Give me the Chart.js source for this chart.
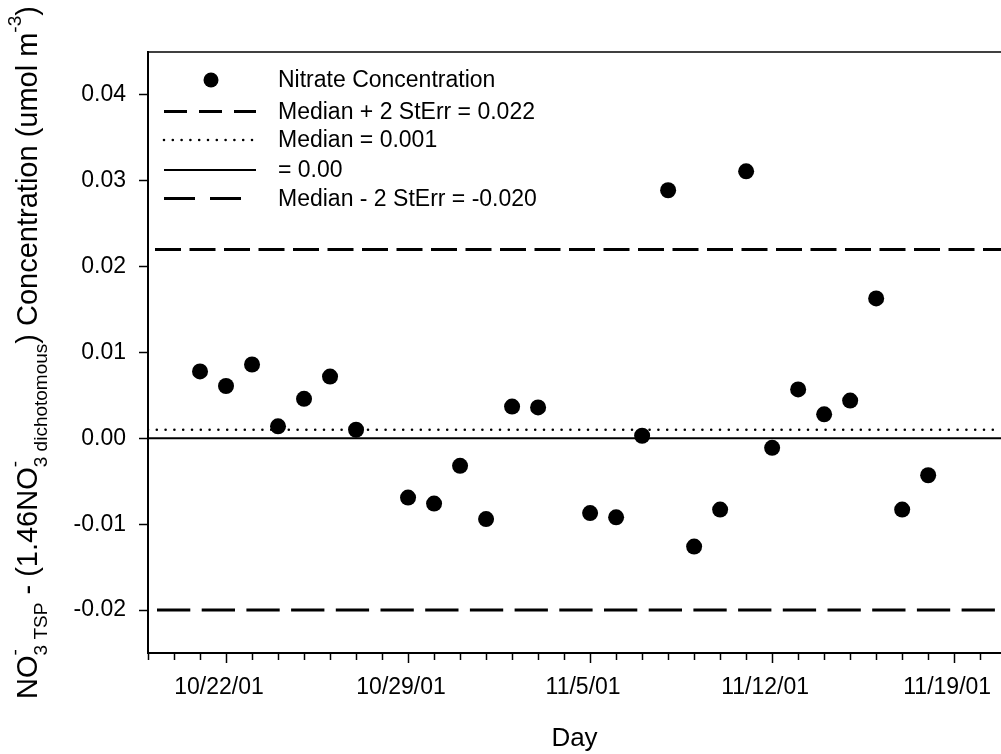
<!DOCTYPE html>
<html>
<head>
<meta charset="utf-8">
<script src="https://cdn.jsdelivr.net/npm/chart.js@4.4.1/dist/chart.umd.min.js"></script>
<style>
    html, body { margin: 0; padding: 0; background: #fff; }
    canvas { display: block; }
</style>
</head>
<body>
<canvas id="nitrateChart" width="1001" height="754"></canvas>
<script>
// sampling days and the TSP minus dichotomous nitrate difference (umol m-3)
const sampleDates = [
    '10/21/01', '10/22/01', '10/23/01', '10/24/01', '10/25/01', '10/26/01', '10/27/01',
    '10/29/01', '10/30/01', '10/31/01', '11/1/01', '11/2/01', '11/3/01',
    '11/5/01', '11/6/01', '11/7/01', '11/8/01', '11/9/01', '11/10/01', '11/11/01',
    '11/12/01', '11/13/01', '11/14/01', '11/15/01', '11/16/01', '11/17/01', '11/18/01'
];
const nitrate = [
    0.0078, 0.0061, 0.0086, 0.0014, 0.0046, 0.0072, 0.0010,
    -0.0069, -0.0076, -0.0032, -0.0094, 0.0037, 0.0036,
    -0.0087, -0.0092, 0.0003, 0.0289, -0.0126, -0.0083, 0.0311,
    -0.0011, 0.0057, 0.0028, 0.0044, 0.0163, -0.0083, -0.0043
];

// reference levels
const medianPlus = 0.022;
const median = 0.001;
const zeroLevel = 0.00;
const medianMinus = -0.020;

// labelled weekly ticks on the day axis, value ticks on the left axis
const weekLabels = ['10/22/01', '10/29/01', '11/5/01', '11/12/01', '11/19/01'];
const yTickValues = [-0.02, -0.01, 0.00, 0.01, 0.02, 0.03, 0.04];

const startDate = new Date(2001, 9, 19);
const dayMax = 32.8;
const dayMs = 86400000;

function dayOf(label) {
    const [m, d, y] = label.split('/').map(Number);
    return Math.round((new Date(2000 + y, m - 1, d) - startDate) / dayMs);
}

function labelOf(day) {
    const d = new Date(startDate.getFullYear(), startDate.getMonth(), startDate.getDate() + day);
    return (d.getMonth() + 1) + '/' + d.getDate() + '/' + String(d.getFullYear()).slice(2);
}

function refLine(label, value, style) {
    return Object.assign({
        type: 'line',
        label: label,
        data: [{ x: 0, y: value }, { x: dayMax, y: value }],
        borderColor: '#000',
        pointRadius: 0,
        pointHoverRadius: 0,
        fill: false
    }, style);
}

// legend drawn inside the plot, top left
const insideLegend = {
    id: 'insideLegend',
    afterDraw(chart) {
        const ctx = chart.ctx;
        const x0 = 164, x1 = 256, textX = 278;
        const rows = [80, 111.5, 140, 170, 198.5];
        ctx.save();
        ctx.font = '23px "Liberation Sans", Arial, sans-serif';
        ctx.fillStyle = '#000';
        ctx.textBaseline = 'middle';
        chart.data.datasets.forEach((ds, i) => {
            const y = rows[i];
            if (ds.type === 'line') {
                ctx.beginPath();
                ctx.strokeStyle = '#000';
                ctx.lineWidth = ds.borderWidth;
                ctx.lineCap = ds.borderCapStyle || 'butt';
                ctx.setLineDash(ds.legendDash || ds.borderDash || []);
                ctx.moveTo(x0, y);
                ctx.lineTo(ds.legendEnd || x1, y);
                ctx.stroke();
                ctx.setLineDash([]);
            } else {
                ctx.beginPath();
                ctx.arc((x0 + x1) / 2 + 1, y, 7.5, 0, Math.PI * 2);
                ctx.fill();
            }
            ctx.fillText(ds.label, textX, y + 1);
        });
        ctx.restore();
    }
};

// frame line along the top of the plot and the y axis title with sub/superscripts
const frameAndTitle = {
    id: 'frameAndTitle',
    afterDraw(chart) {
        const ctx = chart.ctx;
        const area = chart.chartArea;
        ctx.save();
        ctx.strokeStyle = '#000';
        ctx.lineWidth = 1.5;
        ctx.beginPath();
        ctx.moveTo(area.left, area.top);
        ctx.lineTo(area.right, area.top);
        ctx.stroke();

        const F = 29, S = 19;
        const mainFont = F + 'px "Liberation Sans", Arial, sans-serif';
        const smallFont = S + 'px "Liberation Sans", Arial, sans-serif';
        const parts = [
            { text: 'NO' },
            { sub: '3 TSP', sup: '-' },
            { text: ' - (1.46NO' },
            { sub: '3 dichotomous', sup: '-' },
            { text: ') Concentration (umol m' },
            { sup: '-3' },
            { text: ')' }
        ];
        const widthOf = p => {
            if (p.text) { ctx.font = mainFont; return ctx.measureText(p.text).width; }
            ctx.font = smallFont;
            return Math.max(p.sub ? ctx.measureText(p.sub).width : 0, p.sup ? ctx.measureText(p.sup).width : 0);
        };
        const total = parts.reduce((s, p) => s + widthOf(p), 0);
        const midY = (area.top + area.bottom) / 2;
        ctx.translate(37, midY + total / 2);
        ctx.rotate(-Math.PI / 2);
        ctx.fillStyle = '#000';
        ctx.textBaseline = 'alphabetic';
        let x = 0;
        parts.forEach(p => {
            const w = widthOf(p);
            if (p.text) {
                ctx.font = mainFont;
                ctx.fillText(p.text, x, 0);
            } else {
                ctx.font = smallFont;
                if (p.sub) ctx.fillText(p.sub, x, 10);
                if (p.sup) ctx.fillText(p.sup, x, -16);
            }
            x += w;
        });
        ctx.restore();
    }
};

Chart.defaults.font.family = '"Liberation Sans", Arial, sans-serif';
Chart.defaults.color = '#000';

const nitrateChart = document.getElementById('nitrateChart');

new Chart(nitrateChart, {
    type: 'scatter',
    data: {
        datasets: [
            {
                label: 'Nitrate Concentration',
                data: sampleDates.map((s, i) => ({ x: dayOf(s), y: nitrate[i] })),
                backgroundColor: '#000',
                borderWidth: 0,
                pointRadius: 8,
                pointHoverRadius: 8
            },
            refLine('Median + 2 StErr = ' + medianPlus.toFixed(3), medianPlus, {
                borderWidth: 3,
                borderDash: [26, 8.5],
                borderDashOffset: 27.5,
                legendDash: [23, 12]
            }),
            refLine('Median = ' + median.toFixed(3), median, {
                borderWidth: 2.6,
                borderDash: [0, 8.8],
                borderCapStyle: 'round'
            }),
            refLine('= ' + zeroLevel.toFixed(2), zeroLevel, {
                borderWidth: 2
            }),
            refLine('Median - 2 StErr = ' + medianMinus.toFixed(3), medianMinus, {
                borderWidth: 3,
                borderDash: [33.3, 11.4],
                borderDashOffset: 35.7,
                legendDash: [31, 15],
                legendEnd: 241
            })
        ]
    },
    options: {
        responsive: false,
        animation: false,
        layout: {
            autoPadding: false,
            padding: { top: 52, left: 0, right: 0, bottom: 0 }
        },
        plugins: {
            legend: { display: false },
            tooltip: { enabled: false }
        },
        scales: {
            x: {
                type: 'linear',
                min: 0,
                max: dayMax,
                afterFit: scale => {
                    scale.height = 101;
                    scale.paddingLeft = 0;
                    scale.paddingRight = 0;
                },
                border: { color: '#000', width: 2 },
                grid: {
                    drawOnChartArea: false,
                    tickLength: 10,
                    tickWidth: 1.5,
                    tickColor: '#000',
                    tickBorderDash: ctx => (ctx.tick && weekLabels.includes(labelOf(ctx.tick.value))) ? [] : [6, 30]
                },
                ticks: {
                    stepSize: 1,
                    includeBounds: false,
                    autoSkip: false,
                    maxRotation: 0,
                    padding: 11,
                    labelOffset: -7,
                    font: { size: 23 },
                    callback: value => weekLabels.includes(labelOf(value)) ? labelOf(value) : ''
                },
                title: {
                    display: true,
                    text: 'Day',
                    font: { size: 26 },
                    padding: 0
                }
            },
            y: {
                min: -0.025,
                max: 0.045,
                afterFit: scale => {
                    scale.width = 148;
                    scale.paddingTop = 0;
                    scale.paddingBottom = 0;
                },
                afterBuildTicks: scale => { scale.ticks = yTickValues.map(value => ({ value })); },
                border: { color: '#000', width: 2 },
                grid: {
                    drawOnChartArea: false,
                    tickLength: 9,
                    tickWidth: 1.5,
                    tickColor: '#000'
                },
                ticks: {
                    padding: 13,
                    font: { size: 23 },
                    callback: value => value.toFixed(2)
                }
            }
        }
    },
    plugins: [insideLegend, frameAndTitle]
});
</script>
</body>
</html>
